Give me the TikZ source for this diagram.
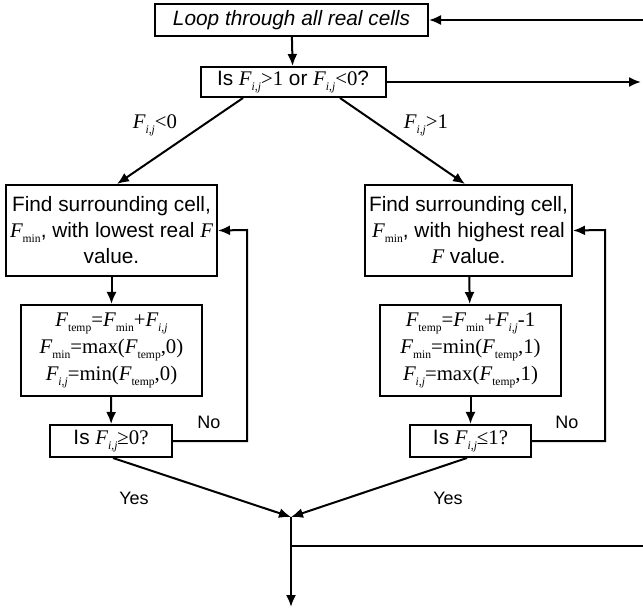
\documentclass[tikz,border=0pt]{standalone}
\usepackage{fontspec}
\setmainfont{Liberation Sans}
\newfontfamily\tms{Liberation Serif}
\usetikzlibrary{arrows.meta}
\newcommand\Fv[1]{{\tms\itshape F}\raisebox{-0.45ex}{\tms\fontsize{5.8}{6}\selectfont #1}}
\newcommand\Fij{\Fv{\itshape i,j}}
\newcommand\Fit{{\tms\itshape F}}

\begin{document}
\begin{tikzpicture}[x=0.5pt, y=-0.5pt,
  font=\fontsize{10.4}{13}\selectfont,
  box/.style={rectangle, draw, line width=1pt, inner sep=1pt, align=center},
  mathbox/.style={box, font=\tms\fontsize{10.4}{13.5}\selectfont},
  arr/.style={line width=1pt, -{Latex[length=6pt,width=5pt]}},
  lbl/.style={font=\fontsize{9}{11}\selectfont}]
  \useasboundingbox (0,0) rectangle (643,609);

  \node[box, minimum width=136.5pt, minimum height=16pt, font=\fontsize{10.4}{13}\selectfont\itshape] (loop) at (291.5,20) {Loop through all real cells};
  \node[box, minimum width=92.5pt, minimum height=15pt] (isq) at (293,82) {Is \Fij{\tms >1} or \Fij{\tms <0}?};

  % left branch
  \node[box, minimum width=105.5pt, minimum height=45.5pt] (findL) at (111.5,230.5) {Find surrounding cell,\\\Fv{min}, with lowest real \Fit\\value.};
  \node[mathbox, minimum width=90.5pt, minimum height=45.5pt] (formL) at (111.5,350.5) {\Fv{temp}=\Fv{min}+\Fij\\\Fv{min}=max(\Fv{temp},0)\\\Fij=min(\Fv{temp},0)};
  \node[box, minimum width=61pt, minimum height=16pt] (chkL) at (111,441) {Is \Fij{\tms ≥0?}};

  % right branch
  \node[box, minimum width=103.5pt, minimum height=45.5pt] (findR) at (468.5,230.5) {Find surrounding cell,\\\Fv{min}, with highest real\\\Fit{} value.};
  \node[mathbox, minimum width=90.5pt, minimum height=45.5pt] (formR) at (470.5,350.5) {\Fv{temp}=\Fv{min}+\Fij-1\\\Fv{min}=min(\Fv{temp},1)\\\Fij=max(\Fv{temp},1)};
  \node[box, minimum width=60.5pt, minimum height=16pt] (chkR) at (470.5,441) {Is \Fij{\tms ≤1?}};

  \coordinate (rTop) at (643,20);
  \coordinate (rMid) at (641,84);
  \coordinate (fbL) at (247,230);
  \coordinate (fbR) at (605,230);
  \coordinate (merge) at (291,517);
  \coordinate (junc) at (291,546);
  \coordinate (rBot) at (643,546);
  \coordinate (outEnd) at (291,607);

  \draw[arr] (rTop) -- (loop.east);
  \draw[arr] (loop) -- (isq);
  \draw[arr] (isq.east) -- (isq.east -| rMid);
  \draw[arr] ([xshift=-25pt]isq.south) -- ([xshift=2.75pt]findL.north);
  \draw[arr] ([xshift=23.5pt]isq.south) -- ([xshift=-1.75pt]findR.north);
  \node at (155,125) {\Fij{\tms <0}};
  \node at (426,125) {\Fij{\tms >1}};

  \draw[arr] (findL) -- (formL);
  \draw[arr] (formL) -- (chkL);
  \draw[arr] (findR) -- (formR);
  \draw[arr] (formR) -- (chkR);

  \draw[arr] (chkL.east) -| (fbL) -- (findL.east);
  \draw[arr] (chkR.east) -| (fbR) -- (findR.east);
  \node[lbl] at (209,422) {No};
  \node[lbl] at (567,422) {No};

  \draw[arr] ([xshift=1pt]chkL.south) -- (merge);
  \draw[arr] ([xshift=-1.75pt]chkR.south) -- (merge);
  \node[lbl] at (134,498) {Yes};
  \node[lbl] at (448,498) {Yes};

  \draw[arr] (merge) -- (outEnd);
  \draw[line width=1pt] (junc) -- (rBot);
\end{tikzpicture}
\end{document}
